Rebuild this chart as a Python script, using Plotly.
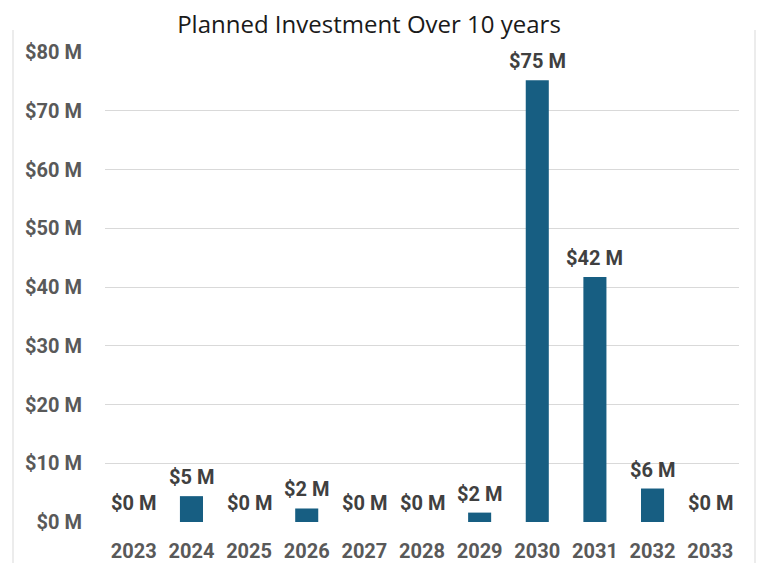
import plotly.graph_objects as go

years = ["2023", "2024", "2025", "2026", "2027", "2028", "2029", "2030", "2031", "2032", "2033"]
investment_m = [0, 4.4, 0, 2.3, 0, 0, 1.6, 75.2, 41.7, 5.7, 0]
value_labels = ["$0 M", "$5 M", "$0 M", "$2 M", "$0 M", "$0 M", "$2 M", "$75 M", "$42 M", "$6 M", "$0 M"]
y_ticks = [0, 10, 20, 30, 40, 50, 60, 70, 80]
y_tick_labels = ["$0 M", "$10 M", "$20 M", "$30 M", "$40 M", "$50 M", "$60 M", "$70 M", "$80 M"]

BAR = "#175e82"
TXT = "#595959"
LBL = "#404040"
FONT = "Roboto"

fig = go.Figure()
fig.add_trace(go.Bar(x=years, y=investment_m, marker=dict(color=BAR, line=dict(width=0)),
                     hoverinfo="skip"))

for i, (v, lab) in enumerate(zip(investment_m, value_labels)):
    fig.add_annotation(x=i, y=v, text=lab, showarrow=False, yanchor="bottom",
                       yshift=5, font=dict(family=FONT, size=20, color=LBL, weight="bold"))

fig.update_layout(
    width=757, height=563,
    margin=dict(l=105, r=18, t=52, b=41, autoexpand=False),
    paper_bgcolor="white", plot_bgcolor="white",
    bargap=0.6,
    showlegend=False,
    title=dict(text="Planned Investment Over 10 years", x=369/757, xanchor="center",
               y=1 - 25/563, yanchor="middle",
               font=dict(family="Open Sans", size=24, color="#1a1a1a")),
    xaxis=dict(type="category", range=[-0.5, len(years) - 0.5], showgrid=False,
               showline=False, zeroline=False, ticks="",
               tickfont=dict(family=FONT, size=20, color=TXT, weight="bold"),
               ticklabelstandoff=15, automargin=False),
    yaxis=dict(range=[0, 80], tickvals=y_ticks, ticktext=y_tick_labels,
               showgrid=True, gridcolor="#d9d9d9", gridwidth=1, zeroline=False,
               showline=False, ticks="", automargin=False,
               tickfont=dict(family=FONT, size=20, color=TXT, weight="bold"),
               ticklabelstandoff=22),
    shapes=[
        dict(type="line", xref="paper", yref="paper", x0=-92/634, x1=-92/634,
             y0=-41/470, y1=(563-30-41)/470 , line=dict(color="#d9d9d9", width=1)),
        dict(type="line", xref="paper", yref="paper", x0=(755-105)/634, x1=(755-105)/634,
             y0=-41/470, y1=(563-30-41)/470, line=dict(color="#d9d9d9", width=1)),
    ],
)

fig.write_html("out.html", config={"displayModeBar": False},
               post_script="document.body.style.margin='0';window.dispatchEvent(new Event('resize'));")
